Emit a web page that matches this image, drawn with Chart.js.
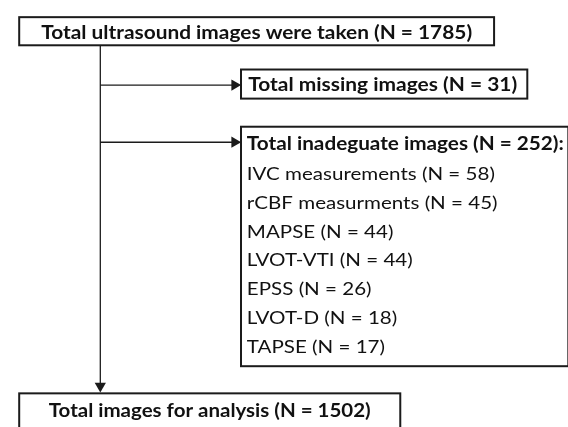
<!DOCTYPE html>
<html>
<head>
<meta charset="utf-8">
<script src="https://cdn.jsdelivr.net/npm/chart.js@4.4.0/dist/chart.umd.min.js"></script>
<style>
  html, body { margin: 0; padding: 0; background: #fff; }
  canvas { display: block; }
</style>
</head>
<body>
<canvas id="flowChart" width="568" height="427"></canvas>
<script>
/* ==========================================================
   Ultrasound image flow diagram
========================================================== */

// ---- data ----
const totalTaken = 1785;
const totalMissing = 31;
const totalInadequate = 252;
const totalAnalysed = 1502;

const reasonLabels = [
    "IVC measurements",
    "rCBF measurments",
    "MAPSE",
    "LVOT-VTI",
    "EPSS",
    "LVOT-D",
    "TAPSE"
];
const reasonCounts = [58, 45, 44, 44, 26, 18, 17];

// ---- layout (canvas units, the scales run 0..568 and 0..427) ----
const FONT = "Lato, 'Open Sans', sans-serif";
const INK = "#1b1b1b";
const ARROW_R = 6.5;
const TRUNK_X = 96;
const CAP_BOLD = 14;
const CAP_NORMAL = 13;

const boxes = {
    top:      { x0: 13,  y0: 11,  x1: 499, y1: 40 },
    missing:  { x0: 240, y0: 65,  x1: 533, y1: 95 },
    inadeq:   { x0: 240, y0: 124, x1: 575, y1: 371 },
    analysis: { x0: 13,  y0: 399, x1: 403, y1: 445 }
};

const nText = n => `(N = ${n})`;

// each text: content, anchor x, centre y, fitted width, align
const texts = [
    { t: `Total ultrasound images were taken ${nText(totalTaken)}`,
      x: 256, y: 26, w: 431, align: "center" },
    { t: `Total missing images ${nText(totalMissing)}`,
      x: 385, y: 80, w: 269, align: "center" },
    { t: `Total inadeguate images ${nText(totalInadequate)}:`,
      x: 246, y: 141, w: 317, align: "left" },
    { t: `Total images for analysis ${nText(totalAnalysed)}`,
      x: 208, y: 416, w: 322, align: "center" }
];

const reasonTop = 172;
const reasonStep = 29.8;
const reasonWidthRef = 248;   // width of the first (longest) reason line

/* =====================================================
   DATASETS (connectors with arrow heads)
===================================================== */

function connector(from, to, rotation) {
    return {
        data: [from, to],
        showLine: true,
        borderColor: INK,
        borderWidth: 1.3,
        pointRadius: [0, ARROW_R],
        pointStyle: "triangle",
        rotation: rotation,
        pointBackgroundColor: INK,
        pointBorderColor: INK,
        pointBorderWidth: 0,
        tension: 0
    };
}

const datasets = [
    connector({ x: TRUNK_X, y: boxes.top.y1 }, { x: TRUNK_X, y: boxes.analysis.y0 - 1 - ARROW_R }, 180),
    connector({ x: TRUNK_X, y: 81 },  { x: boxes.missing.x0 - ARROW_R, y: 81 }, 90),
    connector({ x: TRUNK_X, y: 140 }, { x: boxes.inadeq.x0 - ARROW_R, y: 140 }, 90)
];

/* =====================================================
   BOXES + TEXT PLUGIN
===================================================== */

// font size giving the wanted cap height
function sizeForCap(ctx, weight, cap) {
    ctx.font = `${weight} 100px ${FONT}`;
    return 100 * cap / ctx.measureText("H").actualBoundingBoxAscent;
}

function squeezeFor(ctx, text, weight, size, width) {
    ctx.font = `${weight} ${size}px ${FONT}`;
    return width / ctx.measureText(text).width;
}

// draws text at given size, squeezed horizontally by sx
function drawText(ctx, text, weight, size, sx, x, cy, cap, align) {
    ctx.font = `${weight} ${size}px ${FONT}`;
    const w = ctx.measureText(text).width * sx;
    const left = align === "center" ? x - w / 2 : x;
    ctx.save();
    ctx.translate(left, cy + cap / 2);
    ctx.scale(sx, 1);
    ctx.textAlign = "left";
    ctx.textBaseline = "alphabetic";
    ctx.fillText(text, 0, 0);
    ctx.restore();
}

const flowPlugin = {
    id: "flowBoxes",
    afterDatasetsDraw(chart) {
        const { ctx, scales } = chart;
        const px = v => scales.x.getPixelForValue(v);
        const py = v => scales.y.getPixelForValue(v);

        ctx.save();

        ctx.strokeStyle = INK;
        ctx.lineWidth = 2;
        Object.values(boxes).forEach(b => {
            ctx.strokeRect(px(b.x0), py(b.y0), px(b.x1) - px(b.x0), py(b.y1) - py(b.y0));
        });

        ctx.fillStyle = "#111";
        const boldSize = sizeForCap(ctx, "bold", CAP_BOLD);
        texts.forEach(t => {
            const sx = squeezeFor(ctx, t.t, "bold", boldSize, t.w);
            drawText(ctx, t.t, "bold", boldSize, sx, px(t.x), py(t.y), CAP_BOLD, t.align);
        });

        const lines = reasonLabels.map((l, i) => `${l} ${nText(reasonCounts[i])}`);
        const normSize = sizeForCap(ctx, "normal", CAP_NORMAL);
        const sx = squeezeFor(ctx, lines[0], "normal", normSize, reasonWidthRef);
        lines.forEach((line, i) => {
            drawText(ctx, line, "normal", normSize, sx, px(246), py(reasonTop + i * reasonStep),
                CAP_NORMAL, "left");
        });

        ctx.restore();
    }
};

/* =====================================================
   CHART
===================================================== */

new Chart(document.getElementById("flowChart").getContext("2d"), {
    type: "scatter",
    data: { datasets },
    options: {
        responsive: false,
        animation: false,
        events: [],
        layout: { padding: 0 },
        plugins: {
            legend: { display: false },
            tooltip: { enabled: false }
        },
        scales: {
            x: { type: "linear", min: 0, max: 568, display: false },
            y: { type: "linear", min: 0, max: 427, reverse: true, display: false }
        }
    },
    plugins: [flowPlugin]
});
</script>
</body>
</html>
